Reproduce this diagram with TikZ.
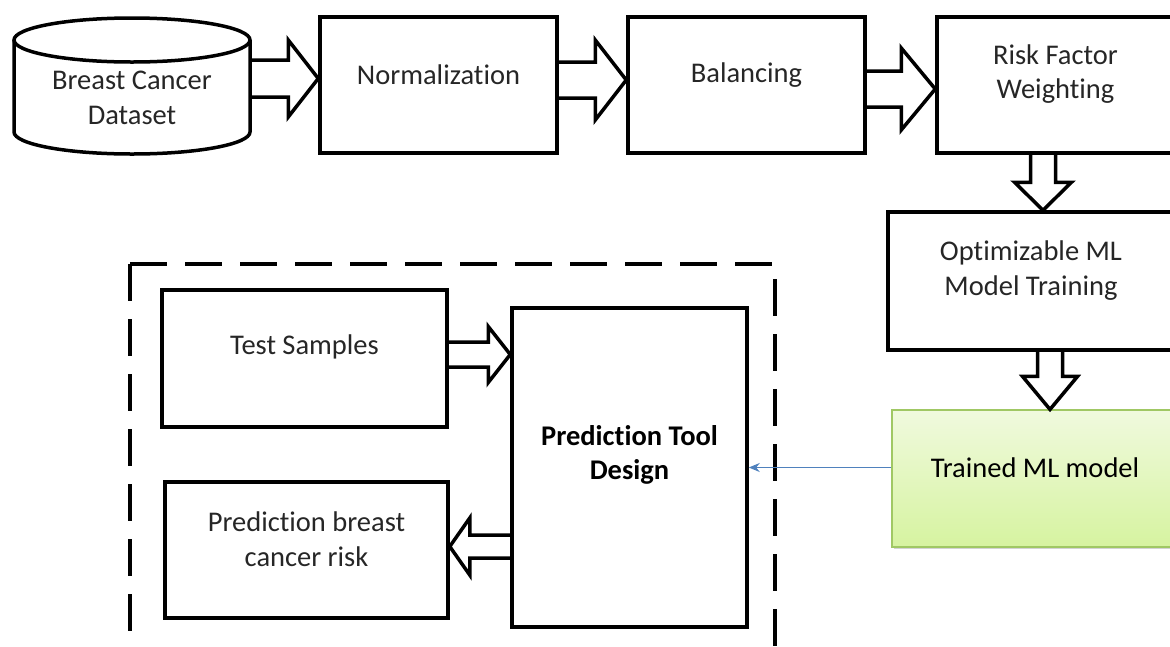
\documentclass[tikz,border=0pt]{standalone}
\usepackage{fontspec}
\setmainfont[Ligatures={NoCommon}]{Carlito}
\usetikzlibrary{calc,arrows.meta,shadows}
\definecolor{blueln}{RGB}{79,129,189}
\definecolor{grtop}{RGB}{240,250,222}
\definecolor{grbot}{RGB}{214,243,160}
\definecolor{grbord}{RGB}{160,200,100}
\newcommand\harrow[6]{\draw[blk] let \p1=(#1), \p2=(#2) in ({\x1},{#3+#4}) -- ({\x2-(#6)},{#3+#4}) -- ({\x2-(#6)},{#3+#5}) -- ({\x2},{#3}) -- ({\x2-(#6)},{#3-#5}) -- ({\x2-(#6)},{#3-#4}) -- ({\x1},{#3-#4});}
\newcommand\varrow[6]{\draw[blk] let \p1=(#1), \p2=(#2) in ({#3-#4},{\y1}) -- ({#3-#4},{\y2+#6}) -- ({#3-#5},{\y2+#6}) -- ({#3},{\y2}) -- ({#3+#5},{\y2+#6}) -- ({#3+#4},{\y2+#6}) -- ({#3+#4},{\y1});}
\begin{document}
\begin{tikzpicture}[x=1pt,y=1pt,
  box/.style={draw=black,line width=3.5pt,inner sep=0pt},
  txt/.style={align=center,font=\fontsize{28.5}{34.5}\selectfont,text=black!85,inner sep=0pt},
  btxt/.style={txt,font=\fontsize{28.5}{34.5}\selectfont\bfseries,text=black},
  blk/.style={draw=black,line width=3.5pt,line join=miter},
  dbox/.style={draw=black,line width=4pt,dash pattern=on 37pt off 18pt},
]
\useasboundingbox (0,0) rectangle (1170,-646);

% dashed container
\draw[dbox] (130,-264) -- (775,-264) -- (775,-700);
\draw[dbox] (130,-264) -- (130,-700);

% cylinder
\node[inner sep=0pt,minimum width=236pt,minimum height=136pt] (db) at (132,-86) {};
\draw[line width=3.5pt] (14,-40) -- (14,-132) arc[start angle=180,end angle=360,x radius=118,y radius=22] -- (250,-40);
\draw[line width=3.5pt] (132,-40) ellipse[x radius=118,y radius=22];
\node[txt] (tdb) at (132,-98) {Breast Cancer\\Dataset};

% top row
\node[box,minimum width=237pt,minimum height=136pt] (norm) at (438.5,-85) {};
\node[txt] (tnorm) at (438.5,-75) {Normalization};
\node[box,minimum width=237pt,minimum height=136pt] (bal) at (746.5,-85) {};
\node[txt] (tbal) at (746.5,-75) {Balancing};
\node[box,minimum width=237pt,minimum height=136pt] (risk) at (1055.5,-85) {};
\node[txt] (trisk) at (1055.5,-74) {Risk Factor\\Weighting};

% right column
\node[box,minimum width=286pt,minimum height=138pt] (opt) at (1031,-281) {};
\node[txt] (topt) at (1031,-270.5) {Optimizable ML\\Model Training};
\node[draw=grbord,line width=1.2pt,top color=grtop,bottom color=grbot,inner sep=0pt,
      minimum width=286pt,minimum height=137pt,
      drop shadow={shadow xshift=2pt,shadow yshift=-2pt,opacity=0.35}] (trained) at (1035,-478.5) {};
\node[txt,text=black] (ttrained) at (1035,-468) {Trained ML model};

% inside dashed container
\node[box,minimum width=285pt,minimum height=137pt] (test) at (304.5,-358.5) {};
\node[txt] (ttest) at (304.5,-347) {Test Samples};
\node[box,minimum width=283pt,minimum height=136pt] (pb) at (306.5,-550) {};
\node[txt] (tpb) at (306.5,-539) {Prediction breast\\cancer risk};
\node[box,minimum width=235pt,minimum height=319pt] (pred) at (629.5,-467.5) {};
\node[btxt] (tpred) at (629.5,-455) {Prediction Tool\\Design};

% block arrows
\harrow{db.east}{norm.west}{-78.5}{18.5}{38.5}{30}
\harrow{norm.east}{bal.west}{-80}{18}{40}{31}
\harrow{bal.east}{risk.west}{-89}{18}{41}{34}
\varrow{risk.south}{opt.north}{1043}{12.5}{28.5}{28}
\varrow{opt.south}{trained.north}{1050}{12.5}{27.5}{33}
\harrow{test.east}{pred.west}{-354.5}{12.5}{28}{22}
\harrow{pred.west}{pb.east}{-546.5}{11.5}{28.5}{-20}

% thin blue connector
\draw[blueln,line width=1.4pt,-{Stealth[length=11pt,width=9pt]}] (pred.east -| trained.west) -- (pred.east);
\end{tikzpicture}
\end{document}
